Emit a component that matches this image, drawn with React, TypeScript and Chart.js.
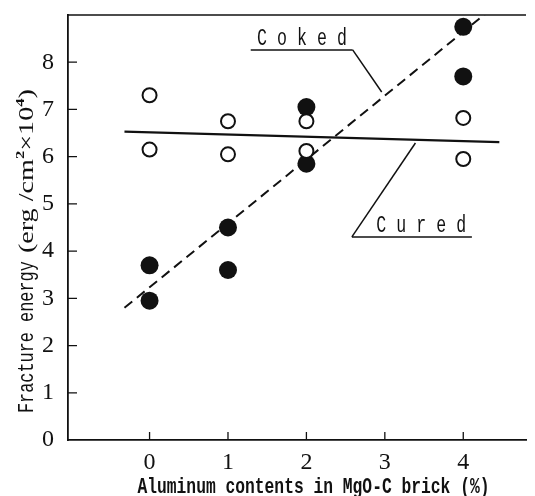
import React, { useEffect, useRef } from "react";
import { Chart, registerables } from "chart.js";

Chart.register(...registerables);

// ---- data ----
const xTicks = [0, 1, 2, 3, 4];
const yTicks = [0, 1, 2, 3, 4, 5, 6, 7, 8];

const cokedX = [0, 0, 1, 1, 2, 2, 4, 4];
const cokedY = [3.7, 2.95, 4.5, 3.6, 7.05, 5.85, 8.75, 7.7];

const curedX = [0, 0, 1, 1, 2, 2, 4, 4];
const curedY = [7.3, 6.15, 6.75, 6.05, 6.75, 6.12, 6.82, 5.95];

// fitted lines (endpoints)
const cokedLineX = [-0.32, 4.3];
const cokedLineY = [2.8, 9.05];
const curedLineX = [-0.32, 4.46];
const curedLineY = [6.53, 6.31];

// annotation anchors in data units
const cokedLabel = { text: "Coked", x: 1.37, y: 8.37, ulX0: 1.29, ulX1: 2.59, ulY: 8.26, tipX: 2.96, tipY: 7.37 };
const curedLabel = { text: "Cured", x: 2.89, y: 4.41, ulX0: 2.58, ulX1: 4.11, ulY: 4.3, tipX: 3.39, tipY: 6.29 };

const xTitle = "Aluminum contents in MgO-C brick (%)";

const INK = "#111";

const toPts = (xs: number[], ys: number[]) => xs.map((x, i) => ({ x, y: ys[i] }));

function drawCondensed(ctx: CanvasRenderingContext2D, text: string, x: number, y: number, font: string, sx: number, spacing = 0) {
  ctx.save();
  ctx.font = font;
  ctx.translate(x, y);
  ctx.scale(sx, 1);
  if (spacing === 0) {
    ctx.fillText(text, 0, 0);
  } else {
    let cx = 0;
    for (const ch of text) {
      ctx.fillText(ch, cx, 0);
      cx += ctx.measureText(ch).width + spacing;
    }
  }
  ctx.restore();
}

const decorPlugin = {
  id: "decor",
  afterDraw(chart: any) {
    const ctx: CanvasRenderingContext2D = chart.ctx;
    const { left, right, top, bottom } = chart.chartArea;
    const xs = chart.scales.x;
    const ys = chart.scales.y;
    ctx.save();
    ctx.strokeStyle = INK;
    ctx.fillStyle = INK;
    // top frame line
    ctx.lineWidth = 1.6;
    ctx.beginPath();
    ctx.moveTo(left, top);
    ctx.lineTo(right, top);
    ctx.stroke();
    // inward ticks
    ctx.lineWidth = 1.3;
    ctx.beginPath();
    for (const v of yTicks) {
      if (v === 0) continue;
      const py = ys.getPixelForValue(v);
      ctx.moveTo(left, py);
      ctx.lineTo(left + 9, py);
    }
    for (const v of xTicks) {
      const px = xs.getPixelForValue(v);
      ctx.moveTo(px, bottom);
      ctx.lineTo(px, bottom - 8);
    }
    ctx.stroke();

    // annotations
    ctx.lineWidth = 1.5;
    for (const a of [cokedLabel, curedLabel]) {
      ctx.beginPath();
      const uy = ys.getPixelForValue(a.ulY);
      ctx.moveTo(xs.getPixelForValue(a.ulX0), uy);
      ctx.lineTo(xs.getPixelForValue(a.ulX1), uy);
      ctx.stroke();
      ctx.beginPath();
      const startX = a === cokedLabel ? a.ulX1 : a.ulX0;
      ctx.moveTo(xs.getPixelForValue(startX), uy);
      ctx.lineTo(xs.getPixelForValue(a.tipX), ys.getPixelForValue(a.tipY));
      ctx.stroke();
      ctx.textBaseline = "alphabetic";
      ctx.textAlign = "left";
      drawCondensed(ctx, a.text, xs.getPixelForValue(a.x), ys.getPixelForValue(a.y), "23px 'Liberation Mono'", 0.72, 14);
    }

    // x title
    ctx.textAlign = "left";
    ctx.textBaseline = "alphabetic";
    const xFont = "bold 22px 'Liberation Mono'";
    ctx.font = xFont;
    const xw = ctx.measureText(xTitle).width;
    const xsx = 352 / xw;
    drawCondensed(ctx, xTitle, xs.getPixelForValue(2.09) - 176, 493, xFont, xsx);

    // y title (rotated): monospace part then serif units part
    const monoSegs = [{ t: "Fracture energy", f: "22px 'Liberation Mono'", dy: 0 }];
    const unitSegs = [
      { t: "(erg /cm", f: "22px 'Liberation Serif'", dy: 0 },
      { t: "2", f: "bold 13px 'Liberation Serif'", dy: -9 },
      { t: "×10", f: "22px 'Liberation Serif'", dy: 0 },
      { t: "4", f: "bold 13px 'Liberation Serif'", dy: -9 },
      { t: ")", f: "22px 'Liberation Serif'", dy: 0 },
    ];
    const cy = ys.getPixelForValue(4.0);
    const drawGroup = (segs: any[], start: number, length: number) => {
      let total = 0;
      const widths = segs.map((s) => {
        ctx.font = s.f;
        const w = ctx.measureText(s.t).width;
        total += w;
        return w;
      });
      ctx.save();
      ctx.translate(33, cy);
      ctx.rotate(-Math.PI / 2);
      ctx.translate(start, 0);
      ctx.scale(length / total, 1);
      let cx = 0;
      segs.forEach((s, i) => {
        ctx.font = s.f;
        ctx.fillText(s.t, cx, s.dy);
        cx += widths[i];
      });
      ctx.restore();
    };
    drawGroup(monoSegs, -162, 152);
    drawGroup(unitSegs, -2, 164);
    ctx.restore();
  },
};

export default function App() {
  const ref = useRef<HTMLCanvasElement>(null);
  useEffect(() => {
    if (!ref.current) return;
    const chart = new Chart(ref.current, {
      type: "scatter",
      data: {
        datasets: [
          {
            label: "Cured",
            data: toPts(curedX, curedY),
            pointRadius: 7,
            pointBorderWidth: 2,
            pointBackgroundColor: "#fff",
            pointBorderColor: INK,
            order: 1,
          } as any,
          {
            label: "Coked",
            data: toPts(cokedX, cokedY),
            pointRadius: 9,
            pointBorderWidth: 0,
            pointBackgroundColor: INK,
            pointBorderColor: INK,
            order: 2,
          },
          {
            label: "Coked fit",
            data: toPts(cokedLineX, cokedLineY),
            showLine: true,
            pointRadius: 0,
            borderColor: INK,
            borderWidth: 2,
            borderDash: [10, 6],
            order: 3,
          },
          {
            label: "Cured fit",
            data: toPts(curedLineX, curedLineY),
            showLine: true,
            pointRadius: 0,
            borderColor: INK,
            borderWidth: 2.2,
            order: 4,
          },
        ],
      },
      options: {
        animation: false,
        responsive: true,
        maintainAspectRatio: false,
        layout: { padding: { top: 15, right: 5, left: 0, bottom: 0 } },
        plugins: { legend: { display: false }, tooltip: { enabled: false } },
        scales: {
          x: {
            type: "linear",
            min: -1.04,
            max: 4.8,
            afterBuildTicks: (s: any) => {
              s.ticks = xTicks.map((v) => ({ value: v }));
            },
            afterFit: (s: any) => {
              s.height = 56;
              s.paddingLeft = 0;
              s.paddingRight = 0;
            },
            grid: { display: false, drawTicks: false },
            border: { display: true, color: INK, width: 1.8 },
            ticks: {
              padding: 8,
              color: INK,
              font: { family: "'Liberation Serif'", size: 24 },
            },
          },
          y: {
            type: "linear",
            min: 0,
            max: 9,
            afterBuildTicks: (s: any) => {
              s.ticks = yTicks.map((v) => ({ value: v }));
            },
            afterFit: (s: any) => {
              s.width = 68;
              s.paddingTop = 0;
              s.paddingBottom = 0;
            },
            grid: { display: false, drawTicks: false },
            border: { display: true, color: INK, width: 1.8 },
            ticks: {
              padding: 14,
              color: INK,
              font: { family: "'Liberation Serif'", size: 24 },
            },
          },
        },
      },
      plugins: [decorPlugin],
    });
    return () => chart.destroy();
  }, []);
  return (
    <div style={{ position: "fixed", left: 0, top: 0, width: 535, height: 496, background: "#fff" }}>
      <canvas ref={ref} />
    </div>
  );
}
